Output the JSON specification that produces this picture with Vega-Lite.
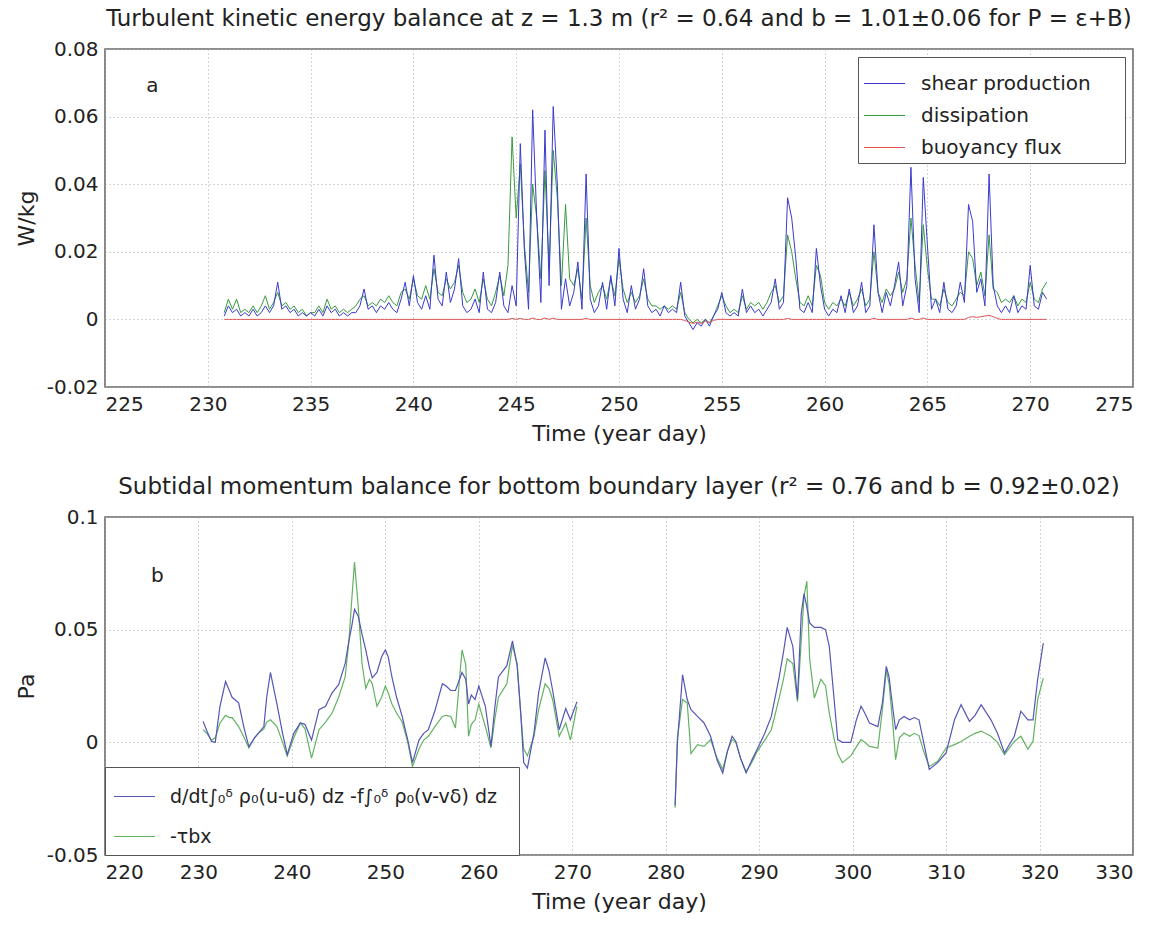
{
  "$schema": "https://vega.github.io/schema/vega-lite/v6.json",
  "background": "white",
  "padding": {"left": 14, "top": 7, "right": 4, "bottom": 5},
  "spacing": 30,
  "datasets": {
    "tke": [
      {"t":230.8,"P":0.001,"E":0.002,"B":0},
      {"t":231.0,"P":0.004,"E":0.006,"B":0},
      {"t":231.2,"P":0.002,"E":0.003,"B":0},
      {"t":231.4,"P":0.003,"E":0.006,"B":0},
      {"t":231.6,"P":0.001,"E":0.002,"B":0},
      {"t":231.8,"P":0.002,"E":0.003,"B":0},
      {"t":232.0,"P":0.001,"E":0.002,"B":0},
      {"t":232.2,"P":0.003,"E":0.004,"B":0},
      {"t":232.4,"P":0.001,"E":0.002,"B":0},
      {"t":232.6,"P":0.002,"E":0.004,"B":0},
      {"t":232.8,"P":0.004,"E":0.007,"B":0},
      {"t":233.0,"P":0.002,"E":0.003,"B":0},
      {"t":233.2,"P":0.004,"E":0.005,"B":0},
      {"t":233.4,"P":0.011,"E":0.008,"B":0},
      {"t":233.6,"P":0.003,"E":0.004,"B":0},
      {"t":233.8,"P":0.004,"E":0.005,"B":0},
      {"t":234.0,"P":0.002,"E":0.003,"B":0},
      {"t":234.2,"P":0.003,"E":0.004,"B":0},
      {"t":234.4,"P":0.001,"E":0.002,"B":0},
      {"t":234.6,"P":0.002,"E":0.003,"B":0},
      {"t":234.8,"P":0.001,"E":0.001,"B":0},
      {"t":235.0,"P":0.002,"E":0.002,"B":0},
      {"t":235.2,"P":0.001,"E":0.002,"B":0},
      {"t":235.4,"P":0.003,"E":0.004,"B":0},
      {"t":235.6,"P":0.001,"E":0.002,"B":0},
      {"t":235.8,"P":0.004,"E":0.006,"B":0},
      {"t":236.0,"P":0.002,"E":0.003,"B":0},
      {"t":236.2,"P":0.003,"E":0.004,"B":0},
      {"t":236.4,"P":0.001,"E":0.002,"B":0},
      {"t":236.6,"P":0.002,"E":0.003,"B":0},
      {"t":236.8,"P":0.001,"E":0.002,"B":0},
      {"t":237.0,"P":0.002,"E":0.003,"B":0},
      {"t":237.2,"P":0.002,"E":0.004,"B":0},
      {"t":237.4,"P":0.004,"E":0.006,"B":0},
      {"t":237.6,"P":0.009,"E":0.007,"B":0},
      {"t":237.8,"P":0.003,"E":0.004,"B":0},
      {"t":238.0,"P":0.004,"E":0.005,"B":0},
      {"t":238.2,"P":0.002,"E":0.004,"B":0},
      {"t":238.4,"P":0.004,"E":0.006,"B":0},
      {"t":238.6,"P":0.003,"E":0.005,"B":0},
      {"t":238.8,"P":0.005,"E":0.007,"B":0},
      {"t":239.0,"P":0.003,"E":0.005,"B":0},
      {"t":239.2,"P":0.002,"E":0.004,"B":0},
      {"t":239.4,"P":0.006,"E":0.008,"B":0},
      {"t":239.6,"P":0.011,"E":0.009,"B":0},
      {"t":239.8,"P":0.004,"E":0.006,"B":0},
      {"t":240.0,"P":0.013,"E":0.012,"B":0},
      {"t":240.2,"P":0.005,"E":0.007,"B":0},
      {"t":240.4,"P":0.003,"E":0.006,"B":0},
      {"t":240.6,"P":0.007,"E":0.010,"B":0},
      {"t":240.8,"P":0.003,"E":0.006,"B":0},
      {"t":241.0,"P":0.019,"E":0.015,"B":0},
      {"t":241.2,"P":0.006,"E":0.008,"B":0},
      {"t":241.4,"P":0.004,"E":0.007,"B":0},
      {"t":241.6,"P":0.014,"E":0.012,"B":0},
      {"t":241.8,"P":0.005,"E":0.009,"B":0},
      {"t":242.0,"P":0.009,"E":0.011,"B":0},
      {"t":242.2,"P":0.018,"E":0.016,"B":0},
      {"t":242.4,"P":0.004,"E":0.008,"B":0},
      {"t":242.6,"P":0.002,"E":0.005,"B":0},
      {"t":242.8,"P":0.003,"E":0.006,"B":0},
      {"t":243.0,"P":0.006,"E":0.009,"B":0},
      {"t":243.2,"P":0.002,"E":0.005,"B":0},
      {"t":243.4,"P":0.014,"E":0.012,"B":0},
      {"t":243.6,"P":0.003,"E":0.006,"B":0},
      {"t":243.8,"P":0.002,"E":0.004,"B":0},
      {"t":244.0,"P":0.005,"E":0.008,"B":0},
      {"t":244.2,"P":0.014,"E":0.013,"B":0},
      {"t":244.4,"P":0.004,"E":0.007,"B":0},
      {"t":244.6,"P":0.002,"E":0.016,"B":0},
      {"t":244.8,"P":0.010,"E":0.054,"B":0.0003},
      {"t":245.0,"P":0.004,"E":0.030,"B":0},
      {"t":245.2,"P":0.052,"E":0.046,"B":0.0003},
      {"t":245.4,"P":0.020,"E":0.022,"B":0},
      {"t":245.6,"P":0.003,"E":0.008,"B":0},
      {"t":245.8,"P":0.062,"E":0.040,"B":0.0004},
      {"t":246.0,"P":0.030,"E":0.030,"B":0},
      {"t":246.2,"P":0.005,"E":0.012,"B":0},
      {"t":246.4,"P":0.056,"E":0.044,"B":0.0004},
      {"t":246.6,"P":0.010,"E":0.015,"B":0},
      {"t":246.8,"P":0.063,"E":0.050,"B":0.0004},
      {"t":247.0,"P":0.040,"E":0.036,"B":0},
      {"t":247.2,"P":0.003,"E":0.010,"B":0},
      {"t":247.4,"P":0.012,"E":0.034,"B":0},
      {"t":247.6,"P":0.004,"E":0.012,"B":0},
      {"t":247.8,"P":0.008,"E":0.010,"B":0},
      {"t":248.0,"P":0.017,"E":0.015,"B":0},
      {"t":248.2,"P":0.003,"E":0.006,"B":0},
      {"t":248.4,"P":0.043,"E":0.030,"B":0.0003},
      {"t":248.6,"P":0.006,"E":0.010,"B":0},
      {"t":248.8,"P":0.002,"E":0.005,"B":0},
      {"t":249.0,"P":0.004,"E":0.008,"B":0},
      {"t":249.2,"P":0.011,"E":0.010,"B":0},
      {"t":249.4,"P":0.003,"E":0.006,"B":0},
      {"t":249.6,"P":0.013,"E":0.012,"B":0},
      {"t":249.8,"P":0.004,"E":0.007,"B":0},
      {"t":250.0,"P":0.021,"E":0.018,"B":0},
      {"t":250.2,"P":0.006,"E":0.009,"B":0},
      {"t":250.4,"P":0.002,"E":0.005,"B":0},
      {"t":250.6,"P":0.010,"E":0.008,"B":0},
      {"t":250.8,"P":0.003,"E":0.005,"B":0},
      {"t":251.0,"P":0.006,"E":0.007,"B":0},
      {"t":251.2,"P":0.015,"E":0.012,"B":0},
      {"t":251.4,"P":0.004,"E":0.006,"B":0},
      {"t":251.6,"P":0.002,"E":0.004,"B":0},
      {"t":251.8,"P":0.003,"E":0.004,"B":0},
      {"t":252.0,"P":0.001,"E":0.003,"B":0},
      {"t":252.2,"P":0.004,"E":0.004,"B":0},
      {"t":252.4,"P":0.002,"E":0.003,"B":0},
      {"t":252.6,"P":0.003,"E":0.004,"B":0},
      {"t":252.8,"P":0.002,"E":0.003,"B":0},
      {"t":253.0,"P":0.011,"E":0.008,"B":0},
      {"t":253.2,"P":0.001,"E":0.002,"B":-0.0003},
      {"t":253.4,"P":-0.001,"E":0.000,"B":-0.0008},
      {"t":253.6,"P":-0.003,"E":-0.001,"B":-0.0012},
      {"t":253.8,"P":-0.001,"E":0.000,"B":-0.0008},
      {"t":254.0,"P":-0.002,"E":-0.001,"B":-0.0012},
      {"t":254.2,"P":0.000,"E":0.000,"B":-0.0005},
      {"t":254.4,"P":-0.002,"E":-0.001,"B":-0.001},
      {"t":254.6,"P":0.001,"E":0.001,"B":-0.0003},
      {"t":254.8,"P":0.003,"E":0.004,"B":0},
      {"t":255.0,"P":0.008,"E":0.007,"B":0},
      {"t":255.2,"P":0.002,"E":0.004,"B":0},
      {"t":255.4,"P":0.001,"E":0.002,"B":0},
      {"t":255.6,"P":0.002,"E":0.003,"B":0},
      {"t":255.8,"P":0.001,"E":0.002,"B":0},
      {"t":256.0,"P":0.009,"E":0.007,"B":0},
      {"t":256.2,"P":0.002,"E":0.003,"B":0},
      {"t":256.4,"P":0.004,"E":0.005,"B":0},
      {"t":256.6,"P":0.002,"E":0.004,"B":0},
      {"t":256.8,"P":0.003,"E":0.005,"B":0},
      {"t":257.0,"P":0.001,"E":0.003,"B":0},
      {"t":257.2,"P":0.003,"E":0.005,"B":0},
      {"t":257.4,"P":0.005,"E":0.008,"B":0},
      {"t":257.6,"P":0.012,"E":0.010,"B":0},
      {"t":257.8,"P":0.003,"E":0.005,"B":0},
      {"t":258.0,"P":0.005,"E":0.007,"B":0},
      {"t":258.2,"P":0.036,"E":0.025,"B":0.0003},
      {"t":258.4,"P":0.030,"E":0.020,"B":0},
      {"t":258.6,"P":0.018,"E":0.012,"B":0},
      {"t":258.8,"P":0.003,"E":0.005,"B":0},
      {"t":259.0,"P":0.002,"E":0.004,"B":0},
      {"t":259.2,"P":0.005,"E":0.007,"B":0},
      {"t":259.4,"P":0.002,"E":0.004,"B":0},
      {"t":259.6,"P":0.021,"E":0.016,"B":0},
      {"t":259.8,"P":0.010,"E":0.013,"B":0},
      {"t":260.0,"P":0.003,"E":0.005,"B":0},
      {"t":260.2,"P":0.001,"E":0.003,"B":0},
      {"t":260.4,"P":0.003,"E":0.005,"B":0},
      {"t":260.6,"P":0.002,"E":0.004,"B":0},
      {"t":260.8,"P":0.007,"E":0.006,"B":0},
      {"t":261.0,"P":0.002,"E":0.004,"B":0},
      {"t":261.2,"P":0.009,"E":0.008,"B":0},
      {"t":261.4,"P":0.002,"E":0.004,"B":0},
      {"t":261.6,"P":0.004,"E":0.006,"B":0},
      {"t":261.8,"P":0.011,"E":0.009,"B":0},
      {"t":262.0,"P":0.002,"E":0.004,"B":0},
      {"t":262.2,"P":0.004,"E":0.006,"B":0},
      {"t":262.4,"P":0.028,"E":0.020,"B":0.0003},
      {"t":262.6,"P":0.008,"E":0.008,"B":0},
      {"t":262.8,"P":0.002,"E":0.005,"B":0},
      {"t":263.0,"P":0.008,"E":0.009,"B":0},
      {"t":263.2,"P":0.004,"E":0.007,"B":0},
      {"t":263.4,"P":0.010,"E":0.009,"B":0},
      {"t":263.6,"P":0.017,"E":0.014,"B":0},
      {"t":263.8,"P":0.004,"E":0.008,"B":0},
      {"t":264.0,"P":0.010,"E":0.012,"B":0},
      {"t":264.2,"P":0.045,"E":0.030,"B":0.0004},
      {"t":264.4,"P":0.012,"E":0.016,"B":0},
      {"t":264.6,"P":0.002,"E":0.005,"B":0},
      {"t":264.8,"P":0.042,"E":0.028,"B":0.0004},
      {"t":265.0,"P":0.022,"E":0.015,"B":0},
      {"t":265.2,"P":0.003,"E":0.006,"B":0},
      {"t":265.4,"P":0.006,"E":0.006,"B":0},
      {"t":265.6,"P":0.002,"E":0.004,"B":0},
      {"t":265.8,"P":0.011,"E":0.009,"B":0},
      {"t":266.0,"P":0.003,"E":0.005,"B":0},
      {"t":266.2,"P":0.002,"E":0.004,"B":0},
      {"t":266.4,"P":0.004,"E":0.006,"B":0},
      {"t":266.6,"P":0.011,"E":0.008,"B":0},
      {"t":266.8,"P":0.005,"E":0.007,"B":0},
      {"t":267.0,"P":0.034,"E":0.020,"B":0.0006},
      {"t":267.2,"P":0.029,"E":0.018,"B":0.0008},
      {"t":267.4,"P":0.008,"E":0.010,"B":0.0006},
      {"t":267.6,"P":0.012,"E":0.014,"B":0.0008},
      {"t":267.8,"P":0.004,"E":0.007,"B":0.001},
      {"t":268.0,"P":0.043,"E":0.025,"B":0.0012},
      {"t":268.2,"P":0.010,"E":0.009,"B":0.0008},
      {"t":268.4,"P":0.004,"E":0.008,"B":0.0003},
      {"t":268.6,"P":0.002,"E":0.005,"B":0},
      {"t":268.8,"P":0.004,"E":0.006,"B":0},
      {"t":269.0,"P":0.002,"E":0.005,"B":0},
      {"t":269.2,"P":0.007,"E":0.007,"B":0},
      {"t":269.4,"P":0.002,"E":0.004,"B":0},
      {"t":269.6,"P":0.004,"E":0.006,"B":0},
      {"t":269.8,"P":0.003,"E":0.005,"B":0},
      {"t":270.0,"P":0.016,"E":0.011,"B":0},
      {"t":270.2,"P":0.004,"E":0.006,"B":0},
      {"t":270.4,"P":0.003,"E":0.005,"B":0},
      {"t":270.6,"P":0.008,"E":0.009,"B":0},
      {"t":270.8,"P":0.006,"E":0.011,"B":0}
    ],
    "mom": [
      {"seg":1,"t":230.5,"M":0.0093,"T":0.0056},
      {"seg":1,"t":230.9,"M":0.005,"T":0.004},
      {"seg":1,"t":231.4,"M":0.0004,"T":0.001},
      {"seg":1,"t":231.8,"M":0.0,"T":0.002},
      {"seg":1,"t":232.3,"M":0.016,"T":0.0086},
      {"seg":1,"t":232.9,"M":0.027,"T":0.012},
      {"seg":1,"t":233.3,"M":0.023,"T":0.011},
      {"seg":1,"t":233.6,"M":0.020,"T":0.011},
      {"seg":1,"t":234.3,"M":0.0175,"T":0.007},
      {"seg":1,"t":234.9,"M":0.006,"T":0.002},
      {"seg":1,"t":235.4,"M":-0.002,"T":-0.0025},
      {"seg":1,"t":236.0,"M":0.002,"T":0.002},
      {"seg":1,"t":236.4,"M":0.004,"T":0.004},
      {"seg":1,"t":237.0,"M":0.007,"T":0.006},
      {"seg":1,"t":237.3,"M":0.020,"T":0.009},
      {"seg":1,"t":237.7,"M":0.031,"T":0.010},
      {"seg":1,"t":238.4,"M":0.017,"T":0.007},
      {"seg":1,"t":239.0,"M":0.004,"T":0.000},
      {"seg":1,"t":239.5,"M":-0.0055,"T":-0.006},
      {"seg":1,"t":240.2,"M":0.004,"T":0.002},
      {"seg":1,"t":240.9,"M":0.0086,"T":0.0086},
      {"seg":1,"t":241.4,"M":0.008,"T":0.006},
      {"seg":1,"t":242.1,"M":0.001,"T":-0.007},
      {"seg":1,"t":242.9,"M":0.0145,"T":0.0056},
      {"seg":1,"t":243.6,"M":0.016,"T":0.009},
      {"seg":1,"t":244.3,"M":0.022,"T":0.013},
      {"seg":1,"t":245.0,"M":0.0256,"T":0.020},
      {"seg":1,"t":245.7,"M":0.035,"T":0.029},
      {"seg":1,"t":246.1,"M":0.045,"T":0.045},
      {"seg":1,"t":246.4,"M":0.0515,"T":0.063},
      {"seg":1,"t":246.7,"M":0.059,"T":0.080},
      {"seg":1,"t":247.1,"M":0.056,"T":0.060},
      {"seg":1,"t":247.5,"M":0.048,"T":0.035},
      {"seg":1,"t":247.9,"M":0.041,"T":0.024},
      {"seg":1,"t":248.3,"M":0.033,"T":0.028},
      {"seg":1,"t":248.6,"M":0.0286,"T":0.026},
      {"seg":1,"t":249.1,"M":0.031,"T":0.016},
      {"seg":1,"t":249.6,"M":0.038,"T":0.020},
      {"seg":1,"t":250.0,"M":0.041,"T":0.025},
      {"seg":1,"t":250.3,"M":0.038,"T":0.022},
      {"seg":1,"t":250.7,"M":0.029,"T":0.017},
      {"seg":1,"t":251.2,"M":0.020,"T":0.013},
      {"seg":1,"t":251.8,"M":0.0115,"T":0.009},
      {"seg":1,"t":252.4,"M":0.001,"T":0.000},
      {"seg":1,"t":252.9,"M":-0.009,"T":-0.0107},
      {"seg":1,"t":253.6,"M":0.001,"T":-0.003},
      {"seg":1,"t":254.1,"M":0.004,"T":0.001},
      {"seg":1,"t":254.6,"M":0.0056,"T":0.0027},
      {"seg":1,"t":255.3,"M":0.014,"T":0.007},
      {"seg":1,"t":256.1,"M":0.026,"T":0.0115},
      {"seg":1,"t":256.5,"M":0.025,"T":0.012},
      {"seg":1,"t":257.0,"M":0.023,"T":0.0115},
      {"seg":1,"t":257.5,"M":0.023,"T":0.0064},
      {"seg":1,"t":258.2,"M":0.031,"T":0.041},
      {"seg":1,"t":258.6,"M":0.028,"T":0.0345},
      {"seg":1,"t":258.9,"M":0.017,"T":0.0027},
      {"seg":1,"t":259.2,"M":0.021,"T":0.008},
      {"seg":1,"t":259.6,"M":0.019,"T":0.010},
      {"seg":1,"t":260.0,"M":0.025,"T":0.017},
      {"seg":1,"t":260.7,"M":0.016,"T":0.007},
      {"seg":1,"t":261.3,"M":-0.0018,"T":-0.0025},
      {"seg":1,"t":261.7,"M":0.015,"T":0.010},
      {"seg":1,"t":262.1,"M":0.029,"T":0.020},
      {"seg":1,"t":263.0,"M":0.034,"T":0.026},
      {"seg":1,"t":263.6,"M":0.045,"T":0.043},
      {"seg":1,"t":264.1,"M":0.034,"T":0.035},
      {"seg":1,"t":264.5,"M":0.012,"T":0.012},
      {"seg":1,"t":264.8,"M":-0.009,"T":-0.003},
      {"seg":1,"t":265.2,"M":-0.0114,"T":-0.006},
      {"seg":1,"t":265.9,"M":0.004,"T":0.0027},
      {"seg":1,"t":266.4,"M":0.022,"T":0.0145},
      {"seg":1,"t":267.1,"M":0.0375,"T":0.026},
      {"seg":1,"t":267.5,"M":0.032,"T":0.024},
      {"seg":1,"t":267.9,"M":0.023,"T":0.019},
      {"seg":1,"t":268.6,"M":0.0056,"T":0.0027},
      {"seg":1,"t":269.3,"M":0.015,"T":0.0086},
      {"seg":1,"t":269.8,"M":0.010,"T":0.001},
      {"seg":1,"t":270.5,"M":0.018,"T":0.016},
      {"seg":2,"t":281.0,"M":-0.028,"T":-0.029},
      {"seg":2,"t":281.25,"M":0.0,"T":0.002},
      {"seg":2,"t":281.8,"M":0.030,"T":0.019},
      {"seg":2,"t":282.3,"M":0.019,"T":0.0175},
      {"seg":2,"t":282.7,"M":0.0145,"T":-0.005},
      {"seg":2,"t":283.4,"M":0.0115,"T":-0.001},
      {"seg":2,"t":284.1,"M":0.0086,"T":-0.0018},
      {"seg":2,"t":284.8,"M":0.0027,"T":0.0012},
      {"seg":2,"t":285.5,"M":-0.008,"T":-0.007},
      {"seg":2,"t":286.1,"M":-0.0136,"T":-0.012},
      {"seg":2,"t":286.6,"M":-0.004,"T":-0.004},
      {"seg":2,"t":287.1,"M":0.0027,"T":0.0012},
      {"seg":2,"t":287.5,"M":0.0004,"T":0.0},
      {"seg":2,"t":288.0,"M":-0.007,"T":-0.007},
      {"seg":2,"t":288.6,"M":-0.0136,"T":-0.013},
      {"seg":2,"t":289.2,"M":-0.008,"T":-0.009},
      {"seg":2,"t":289.8,"M":-0.003,"T":-0.004},
      {"seg":2,"t":290.6,"M":0.004,"T":0.001},
      {"seg":2,"t":291.3,"M":0.0115,"T":0.0056},
      {"seg":2,"t":292.1,"M":0.028,"T":0.019},
      {"seg":2,"t":292.6,"M":0.040,"T":0.028},
      {"seg":2,"t":293.0,"M":0.051,"T":0.037},
      {"seg":2,"t":293.6,"M":0.0426,"T":0.035},
      {"seg":2,"t":294.1,"M":0.019,"T":0.018},
      {"seg":2,"t":294.5,"M":0.057,"T":0.045},
      {"seg":2,"t":294.8,"M":0.066,"T":0.065},
      {"seg":2,"t":295.1,"M":0.060,"T":0.0715},
      {"seg":2,"t":295.4,"M":0.053,"T":0.037},
      {"seg":2,"t":295.9,"M":0.051,"T":0.0197},
      {"seg":2,"t":296.6,"M":0.051,"T":0.028},
      {"seg":2,"t":297.1,"M":0.050,"T":0.025},
      {"seg":2,"t":297.5,"M":0.0426,"T":0.013},
      {"seg":2,"t":298.0,"M":0.020,"T":0.002},
      {"seg":2,"t":298.4,"M":0.0012,"T":-0.005},
      {"seg":2,"t":298.9,"M":0.0,"T":-0.009},
      {"seg":2,"t":299.8,"M":0.0,"T":-0.006},
      {"seg":2,"t":300.4,"M":0.010,"T":-0.002},
      {"seg":2,"t":300.9,"M":0.016,"T":0.0012},
      {"seg":2,"t":301.3,"M":0.013,"T":0.0},
      {"seg":2,"t":301.8,"M":0.0086,"T":-0.0018},
      {"seg":2,"t":302.7,"M":0.007,"T":-0.0025},
      {"seg":2,"t":303.2,"M":0.018,"T":0.015},
      {"seg":2,"t":303.6,"M":0.0337,"T":0.032},
      {"seg":2,"t":303.9,"M":0.029,"T":0.026},
      {"seg":2,"t":304.3,"M":0.015,"T":0.008},
      {"seg":2,"t":304.6,"M":0.0056,"T":-0.0077},
      {"seg":2,"t":305.0,"M":0.010,"T":0.002},
      {"seg":2,"t":305.5,"M":0.0115,"T":0.0041},
      {"seg":2,"t":306.1,"M":0.010,"T":0.0027},
      {"seg":2,"t":306.6,"M":0.011,"T":0.004},
      {"seg":2,"t":307.1,"M":0.010,"T":0.003},
      {"seg":2,"t":307.6,"M":0.000,"T":-0.004},
      {"seg":2,"t":308.2,"M":-0.012,"T":-0.0107},
      {"seg":2,"t":309.1,"M":-0.009,"T":-0.0084},
      {"seg":2,"t":310.0,"M":-0.0047,"T":-0.0025},
      {"seg":2,"t":310.9,"M":0.010,"T":-0.001},
      {"seg":2,"t":311.6,"M":0.0167,"T":0.0004},
      {"seg":2,"t":312.5,"M":0.0093,"T":0.0027},
      {"seg":2,"t":313.1,"M":0.012,"T":0.004},
      {"seg":2,"t":313.75,"M":0.0167,"T":0.005},
      {"seg":2,"t":314.8,"M":0.010,"T":0.0027},
      {"seg":2,"t":315.5,"M":0.004,"T":0.0},
      {"seg":2,"t":316.25,"M":-0.0047,"T":-0.0055},
      {"seg":2,"t":317.3,"M":0.0027,"T":0.0004},
      {"seg":2,"t":318.0,"M":0.0138,"T":0.0027},
      {"seg":2,"t":318.75,"M":0.010,"T":-0.003},
      {"seg":2,"t":319.3,"M":0.010,"T":0.0004},
      {"seg":2,"t":319.8,"M":0.028,"T":0.019},
      {"seg":2,"t":320.4,"M":0.044,"T":0.0285}
    ],
    "labA": [{"t":227.3,"v":0.069,"lab":"a"}],
    "labB": [{"t":225.6,"v":0.074,"lab":"b"}]
  },
  "vconcat": [
    {
      "width": 1028,
      "height": 338,
      "title": {"text": "Turbulent kinetic energy balance at z = 1.3 m (r² = 0.64 and b = 1.01±0.06 for P = ε+B)"},
      "layer": [
        {
          "data": {"name": "tke"},
          "transform": [{"fold": ["E", "P", "B"], "as": ["k", "v"]}],
          "mark": {"type": "line", "strokeWidth": 1, "clip": true},
          "encoding": {
            "x": {"field": "t", "type": "quantitative", "scale": {"domain": [225, 275], "nice": false, "zero": false},
                  "axis": {"values": [225,230,235,240,245,250,255,260,265,270,275], "title": "Time (year day)"}},
            "y": {"field": "v", "type": "quantitative", "scale": {"domain": [-0.02, 0.08], "nice": false, "zero": false},
                  "axis": {"values": [-0.02,0,0.02,0.04,0.06,0.08], "format": ".2~f", "labelExpr": "replace(datum.label, '\u2212', '-')", "title": "W/kg"}},
            "color": {"field": "k", "type": "nominal",
                      "scale": {"domain": ["P", "E", "B"], "range": ["#3a3ad0", "#379a3f", "#e05555"]},
                      "legend": {"orient": "top-right", "offset": 8, "title": null,
                                 "labelExpr": "(datum.label == 'P' ? 'shear production' : datum.label == 'E' ? 'dissipation' : 'buoyancy flux') + '\u2800\u2800'",
                                 "padding": 5, "rowPadding": -2, "labelOffset": 15}}
          }
        },
        {
          "data": {"name": "labA"},
          "mark": {"type": "text", "fontSize": 20, "color": "#222"},
          "encoding": {
            "x": {"field": "t", "type": "quantitative"},
            "y": {"field": "v", "type": "quantitative"},
            "text": {"field": "lab"}
          }
        }
      ]
    },
    {
      "width": 1028,
      "height": 338,
      "title": {"text": "Subtidal momentum balance for bottom boundary layer (r² = 0.76 and b = 0.92±0.02)"},
      "layer": [
        {
          "data": {"name": "mom"},
          "transform": [{"fold": ["T", "M"], "as": ["k", "v"]}],
          "mark": {"type": "line", "strokeWidth": 1.2, "clip": true},
          "encoding": {
            "x": {"field": "t", "type": "quantitative", "scale": {"domain": [220, 330], "nice": false, "zero": false},
                  "axis": {"values": [220,230,240,250,260,270,280,290,300,310,320,330], "title": "Time (year day)"}},
            "y": {"field": "v", "type": "quantitative", "scale": {"domain": [-0.05, 0.1], "nice": false, "zero": false},
                  "axis": {"values": [-0.05,0,0.05,0.1], "format": ".2~f", "labelExpr": "replace(datum.label, '\u2212', '-')", "title": "Pa"}},
            "detail": {"field": "seg", "type": "nominal"},
            "color": {"field": "k", "type": "nominal",
                      "scale": {"domain": ["M", "T"], "range": ["#5555b8", "#62b262"]},
                      "legend": {"orient": "bottom-left", "offset": 0, "title": null,
                                 "labelExpr": "datum.label == 'M' ? 'd/dt∫₀ᵟ ρ₀(u-uδ) dz -f∫₀ᵟ ρ₀(v-vδ) dz\u2800' : '-τbx'",
                                 "labelFontSize": 19, "padding": 8, "rowPadding": 8, "labelOffset": 14}}
          }
        },
        {
          "data": {"name": "labB"},
          "mark": {"type": "text", "fontSize": 20, "color": "#222"},
          "encoding": {
            "x": {"field": "t", "type": "quantitative"},
            "y": {"field": "v", "type": "quantitative"},
            "text": {"field": "lab"}
          }
        }
      ]
    }
  ],
  "resolve": {"scale": {"color": "independent", "x": "independent", "y": "independent"}, "legend": {"color": "independent"}},
  "config": {
    "font": "DejaVu Sans",
    "view": {"stroke": "#6a6a6a", "strokeWidth": 1.6},
    "axis": {"domain": false, "ticks": false, "labelFontSize": 20, "labelColor": "#222", "labelPadding": 7,
             "titleFontSize": 22, "titleFontWeight": "normal", "titleColor": "#222", "titlePadding": 8,
             "grid": true, "gridColor": "#a8a8a8", "gridDash": [1, 3], "gridWidth": 1},
    "axisX": {"titlePadding": 9},
    "title": {"fontSize": 23, "fontWeight": "normal", "color": "#222", "offset": 8},
    "legend": {"symbolType": "stroke", "symbolSize": 1681, "symbolStrokeWidth": 1.2, "labelFontSize": 20,
               "labelColor": "#222", "labelLimit": 0, "strokeColor": "#555", "fillColor": "white", "cornerRadius": 0}
  }
}
